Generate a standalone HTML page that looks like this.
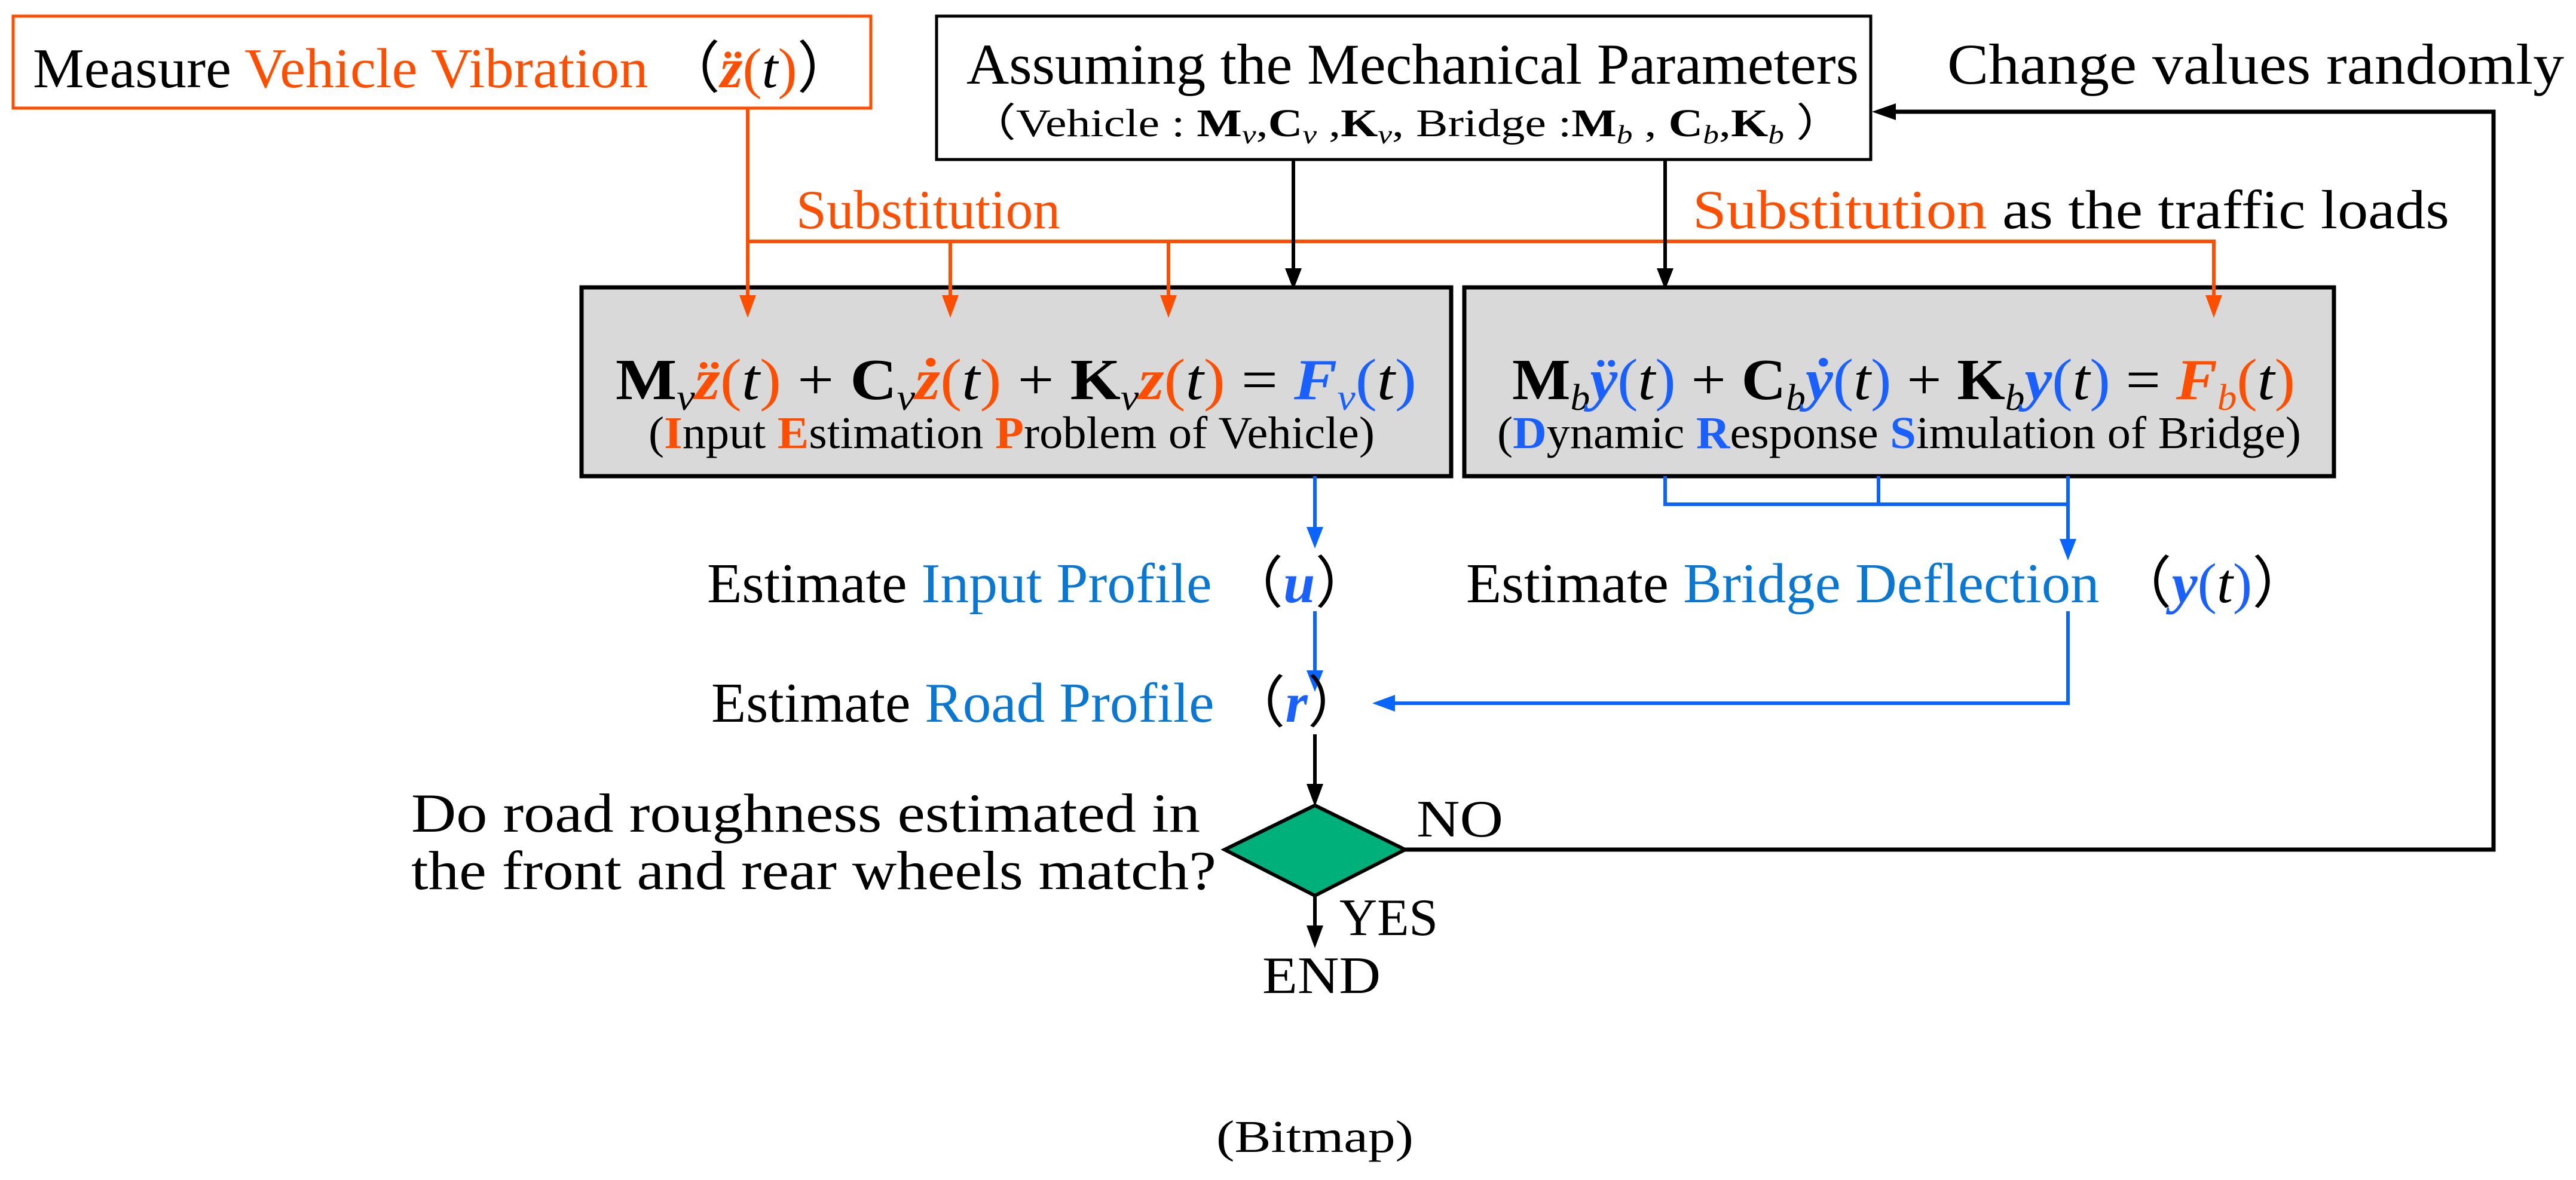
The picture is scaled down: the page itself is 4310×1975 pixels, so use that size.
<!DOCTYPE html>
<html><head><meta charset="utf-8"><style>
html,body{margin:0;padding:0;background:#fff;}
svg{display:block;font-family:"Liberation Serif",serif;}
</style></head><body>
<svg width="4310" height="1975" viewBox="0 0 4310 1975" xmlns="http://www.w3.org/2000/svg">
<rect x="22" y="27" width="1435" height="154" fill="#fff" stroke="#ff4e00" stroke-width="5"/>
<rect x="1567" y="27" width="1563" height="240" fill="#fff" stroke="#000" stroke-width="5"/>
<rect x="973" y="481" width="1455" height="316" fill="#d9d9d9" stroke="#000" stroke-width="7"/>
<rect x="2450" y="481" width="1455" height="316" fill="#d9d9d9" stroke="#000" stroke-width="7"/>

<g stroke="#ff4e00" stroke-width="6" fill="none">
<path d="M1251 181 V500 M1251 404 H3704 V500 M1590 404 V500 M1955 404 V500"/>
</g>
<g fill="#ff4e00">
<path d="M1237 494 L1265 494 L1251 532z"/>
<path d="M1576 494 L1604 494 L1590 532z"/>
<path d="M1941 494 L1969 494 L1955 532z"/>
<path d="M3690 494 L3718 494 L3704 532z"/>
</g>
<g stroke="#000" stroke-width="6" fill="none">
<path d="M2164 267 V455 M2786 267 V455"/>
<path d="M2351 1422 H4172 V187 H3170" stroke-width="7"/>
<path d="M2200 1229 V1320 M2200 1499 V1555"/>
</g>
<g fill="#000">
<path d="M2150 449 L2178 449 L2164 485z"/>
<path d="M2772 449 L2800 449 L2786 485z"/>
<path d="M3132 187 L3172 173 L3172 201z"/>
<path d="M2186 1312 L2214 1312 L2200 1350z"/>
<path d="M2186 1549 L2214 1549 L2200 1587z"/>
</g>
<g stroke="#0a64ff" stroke-width="6" fill="none">
<path d="M2200 797 V890 M2200 1023 V1130"/>
<path d="M2786 797 V844 H3460 M3143 797 V844 M3460 797 V910 M3460 1023 V1177 H2330"/>
</g>
<g fill="#0a64ff">
<path d="M2186 882 L2214 882 L2200 918z"/>
<path d="M2186 1122 L2214 1122 L2200 1158z"/>
<path d="M3446 902 L3474 902 L3460 938z"/>
<path d="M2296 1177 L2334 1163 L2334 1191z"/>
</g>
<path d="M2200 1348 L2351 1422 L2200 1499 L2049 1422z" fill="#00b07a" stroke="#000" stroke-width="6"/>

<text x="55" y="146" font-size="94" textLength="1375" lengthAdjust="spacingAndGlyphs"><tspan>Measure </tspan><tspan fill="#ff4e00">Vehicle Vibration</tspan><tspan> （</tspan><tspan fill="#ff4e00" font-weight="bold" font-style="italic">z̈</tspan><tspan fill="#ff4e00">(</tspan><tspan font-style="italic">t</tspan><tspan fill="#ff4e00">)</tspan>）</text>

<text x="1617" y="140" font-size="96" textLength="1493" lengthAdjust="spacingAndGlyphs">Assuming the Mechanical Parameters</text>
<text x="1620" y="228" font-size="66" textLength="1465" lengthAdjust="spacingAndGlyphs">（Vehicle : <tspan font-weight="bold">M</tspan><tspan font-style="italic" font-size="44" dy="12">v</tspan><tspan dy="-12">,</tspan><tspan font-weight="bold">C</tspan><tspan font-style="italic" font-size="44" dy="12">v</tspan><tspan dy="-12"> ,</tspan><tspan font-weight="bold">K</tspan><tspan font-style="italic" font-size="44" dy="12">v</tspan><tspan dy="-12">,  Bridge :</tspan><tspan font-weight="bold">M</tspan><tspan font-style="italic" font-size="44" dy="12">b</tspan><tspan dy="-12"> , </tspan><tspan font-weight="bold">C</tspan><tspan font-style="italic" font-size="44" dy="12">b</tspan><tspan dy="-12">,</tspan><tspan font-weight="bold">K</tspan><tspan font-style="italic" font-size="44" dy="12">b</tspan><tspan dy="-12"> ）</tspan></text>

<text x="3258" y="140" font-size="96" textLength="1032" lengthAdjust="spacingAndGlyphs">Change values randomly</text>

<text x="1332" y="382" font-size="92" fill="#ff4e00" textLength="442" lengthAdjust="spacingAndGlyphs">Substitution</text>
<text x="2832" y="382" font-size="92" textLength="1266" lengthAdjust="spacingAndGlyphs"><tspan fill="#ff4e00">Substitution</tspan> as the traffic loads</text>

<text x="1030" y="668" font-size="98" textLength="1340" lengthAdjust="spacingAndGlyphs"><tspan font-weight="bold">M</tspan><tspan font-style="italic" font-size="62" dy="18">v</tspan><tspan dy="-18" fill="#ff4e00" font-weight="bold" font-style="italic">z̈</tspan><tspan fill="#ff4e00">(</tspan><tspan font-style="italic">t</tspan><tspan fill="#ff4e00">)</tspan> + <tspan font-weight="bold">C</tspan><tspan font-style="italic" font-size="62" dy="18">v</tspan><tspan dy="-18" fill="#ff4e00" font-weight="bold" font-style="italic">ż</tspan><tspan fill="#ff4e00">(</tspan><tspan font-style="italic">t</tspan><tspan fill="#ff4e00">)</tspan> + <tspan font-weight="bold">K</tspan><tspan font-style="italic" font-size="62" dy="18">v</tspan><tspan dy="-18" fill="#ff4e00" font-weight="bold" font-style="italic">z</tspan><tspan fill="#ff4e00">(</tspan><tspan font-style="italic">t</tspan><tspan fill="#ff4e00">)</tspan> = <tspan fill="#1a5fff" font-weight="bold" font-style="italic">F</tspan><tspan fill="#1a5fff" font-style="italic" font-size="62" dy="18">v</tspan><tspan dy="-18" fill="#1a5fff">(</tspan><tspan font-style="italic">t</tspan><tspan fill="#1a5fff">)</tspan></text>
<text x="1085" y="750" font-size="76" textLength="1215" lengthAdjust="spacingAndGlyphs">(<tspan fill="#ff4e00" font-weight="bold">I</tspan>nput <tspan fill="#ff4e00" font-weight="bold">E</tspan>stimation <tspan fill="#ff4e00" font-weight="bold">P</tspan>roblem of Vehicle)</text>

<text x="2530" y="668" font-size="98" textLength="1310" lengthAdjust="spacingAndGlyphs"><tspan font-weight="bold">M</tspan><tspan font-style="italic" font-size="62" dy="18">b</tspan><tspan dy="-18" fill="#1a5fff" font-weight="bold" font-style="italic">ÿ</tspan><tspan fill="#1a5fff">(</tspan><tspan font-style="italic">t</tspan><tspan fill="#1a5fff">)</tspan> + <tspan font-weight="bold">C</tspan><tspan font-style="italic" font-size="62" dy="18">b</tspan><tspan dy="-18" fill="#1a5fff" font-weight="bold" font-style="italic">ẏ</tspan><tspan fill="#1a5fff">(</tspan><tspan font-style="italic">t</tspan><tspan fill="#1a5fff">)</tspan> + <tspan font-weight="bold">K</tspan><tspan font-style="italic" font-size="62" dy="18">b</tspan><tspan dy="-18" fill="#1a5fff" font-weight="bold" font-style="italic">y</tspan><tspan fill="#1a5fff">(</tspan><tspan font-style="italic">t</tspan><tspan fill="#1a5fff">)</tspan> = <tspan fill="#ff4e00" font-weight="bold" font-style="italic">F</tspan><tspan fill="#ff4e00" font-style="italic" font-size="62" dy="18">b</tspan><tspan dy="-18" fill="#ff4e00">(</tspan><tspan font-style="italic">t</tspan><tspan fill="#ff4e00">)</tspan></text>
<text x="2505" y="750" font-size="76" textLength="1345" lengthAdjust="spacingAndGlyphs">(<tspan fill="#1a5fff" font-weight="bold">D</tspan>ynamic <tspan fill="#1a5fff" font-weight="bold">R</tspan>esponse <tspan fill="#1a5fff" font-weight="bold">S</tspan>imulation of Bridge)</text>

<text x="1183" y="1008" font-size="94" textLength="1113" lengthAdjust="spacingAndGlyphs">Estimate <tspan fill="#0a78d2">Input Profile</tspan> （<tspan fill="#1a5fff" font-weight="bold" font-style="italic">u</tspan>）</text>
<text x="2453" y="1008" font-size="94" textLength="1412" lengthAdjust="spacingAndGlyphs">Estimate <tspan fill="#0a78d2">Bridge Deflection</tspan>   （<tspan fill="#1a5fff" font-weight="bold" font-style="italic">y</tspan><tspan fill="#1a5fff">(</tspan><tspan font-style="italic">t</tspan><tspan fill="#1a5fff">)</tspan>）</text>
<text x="1190" y="1208" font-size="94" textLength="1093" lengthAdjust="spacingAndGlyphs">Estimate <tspan fill="#0a78d2">Road Profile</tspan> （<tspan fill="#1a5fff" font-weight="bold" font-style="italic">r</tspan>）</text>

<text x="688" y="1392" font-size="92" textLength="1320" lengthAdjust="spacingAndGlyphs">Do road roughness estimated in</text>
<text x="688" y="1488" font-size="92" textLength="1347" lengthAdjust="spacingAndGlyphs">the front and rear wheels match?</text>
<text x="2370" y="1400" font-size="88" textLength="145" lengthAdjust="spacingAndGlyphs">NO</text>
<text x="2241" y="1565" font-size="88" textLength="165" lengthAdjust="spacingAndGlyphs">YES</text>
<text x="2112" y="1662" font-size="88" textLength="198" lengthAdjust="spacingAndGlyphs">END</text>
<text x="2035" y="1928" font-size="76" textLength="330" lengthAdjust="spacingAndGlyphs">(Bitmap)</text>
</svg>
</body></html>
